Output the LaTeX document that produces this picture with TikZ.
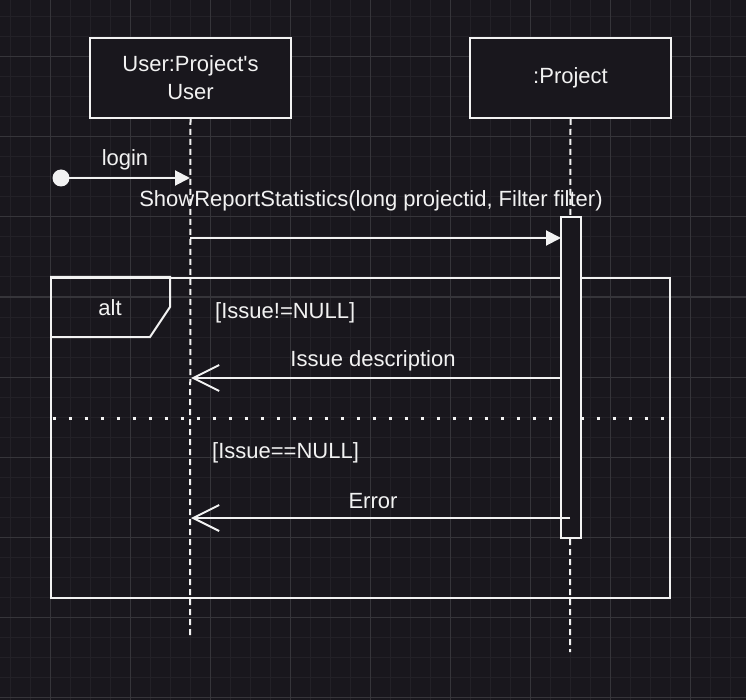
\documentclass[tikz,border=0pt]{standalone}
\usepackage{fontspec}
\setmainfont{Liberation Sans}[Ligatures=TeXOff]
\usetikzlibrary{arrows.meta}
\definecolor{canvas}{HTML}{19171D}
\definecolor{gridminor}{HTML}{232127}
\definecolor{gridmajor}{HTML}{36353A}
\definecolor{ink}{HTML}{F2F2F2}
\begin{document}
\begin{tikzpicture}[x=1pt,y=-1pt,
  every node/.style={text=ink,font=\fontsize{22}{28}\selectfont},
  lifebox/.style={draw=ink,line width=2pt,fill=canvas,minimum width=201pt,minimum height=80pt,align=center,inner sep=0pt},
  lifeline/.style={draw=ink,line width=2pt,dash pattern=on 6pt off 4pt},
  actbar/.style={draw=ink,line width=2pt,fill=canvas,minimum width=20pt,minimum height=321pt,inner sep=0pt},
  callmsg/.style={draw=ink,line width=2pt,-{Triangle[length=15pt,width=15pt]}},
  replymsg/.style={draw=ink,line width=2pt,-{Straight Barb[length=26pt,width=26pt,line width=2pt]}},
  frameline/.style={draw=ink,line width=2pt},
  label/.style={inner sep=0pt}]
% canvas and grid
\fill[canvas] (0,0) rectangle (746,700);
\useasboundingbox (0,0) rectangle (746,700);
\foreach \x in {10,30,...,746} \draw[gridminor,line width=1pt] (\x,0) -- (\x,700);
\foreach \y in {17,37,...,700} \draw[gridminor,line width=1pt] (0,\y) -- (746,\y);
\foreach \x in {50,130,...,746} \draw[gridmajor,line width=1pt] (\x,0) -- (\x,700);
\foreach \y in {57,137,...,700} \draw[gridmajor,line width=1pt] (0,\y) -- (746,\y);

% participants and lifelines
\node[lifebox] (user) at (190.5,78) {User:Project's\\User};
\node[lifebox] (proj) at (570.5,78) {:Project};
\coordinate (userend) at (190,638);
\coordinate (projend) at (570,652);
\draw[lifeline] (user.south) -- (userend);
\draw[lifeline] (proj.south) -- (projend);

% combined fragment
\node[frameline,draw,minimum width=619pt,minimum height=320pt,inner sep=0pt] (alt) at (360.5,438) {};
\draw[frameline] (alt.north west) -- ++(120,0) coordinate (tabtr) -- ++(0,30) -- ++(-20,30) -- ++(-100,0);
\node[label] (altlbl) at (110,308) {alt};
\coordinate (sepl) at (51,418);
\coordinate (sepr) at (670,418);
\draw[ink,line width=3pt,dash pattern=on 3pt off 13pt] (sepl) ++(1.5,0) -- (sepr);

% activation
\node[actbar] (act) at (571,377.5) {};

% messages
\node[fill=ink,circle,minimum size=17pt,inner sep=0pt] (start) at (61,178) {};
\coordinate (ulogin) at (190,178);
\draw[callmsg] (start.center) -- (ulogin);
\node[label] (loginlbl) at (125,160) {login};

\coordinate (ucall) at (190,238);
\coordinate (acall) at (561,238);
\draw[callmsg] (ucall) -- (acall);
\node[label] (calllbl) at (371,201) {ShowReportStatistics(long projectid, Filter filter)};

\node[label,anchor=west] (g1) at (215,313) {[Issue!=NULL]};
\coordinate (aret1) at (561,378);
\coordinate (uret1) at (191,378);
\draw[replymsg] (aret1) -- (uret1);
\node[label] (ret1lbl) at (373,361) {Issue description};

\node[label,anchor=west] (g2) at (212,453) {[Issue==NULL]};
\coordinate (aret2) at (570,518);
\coordinate (uret2) at (191,518);
\draw[replymsg] (aret2) -- (uret2);
\node[label] (ret2lbl) at (373,501) {Error};
\end{tikzpicture}
\end{document}
